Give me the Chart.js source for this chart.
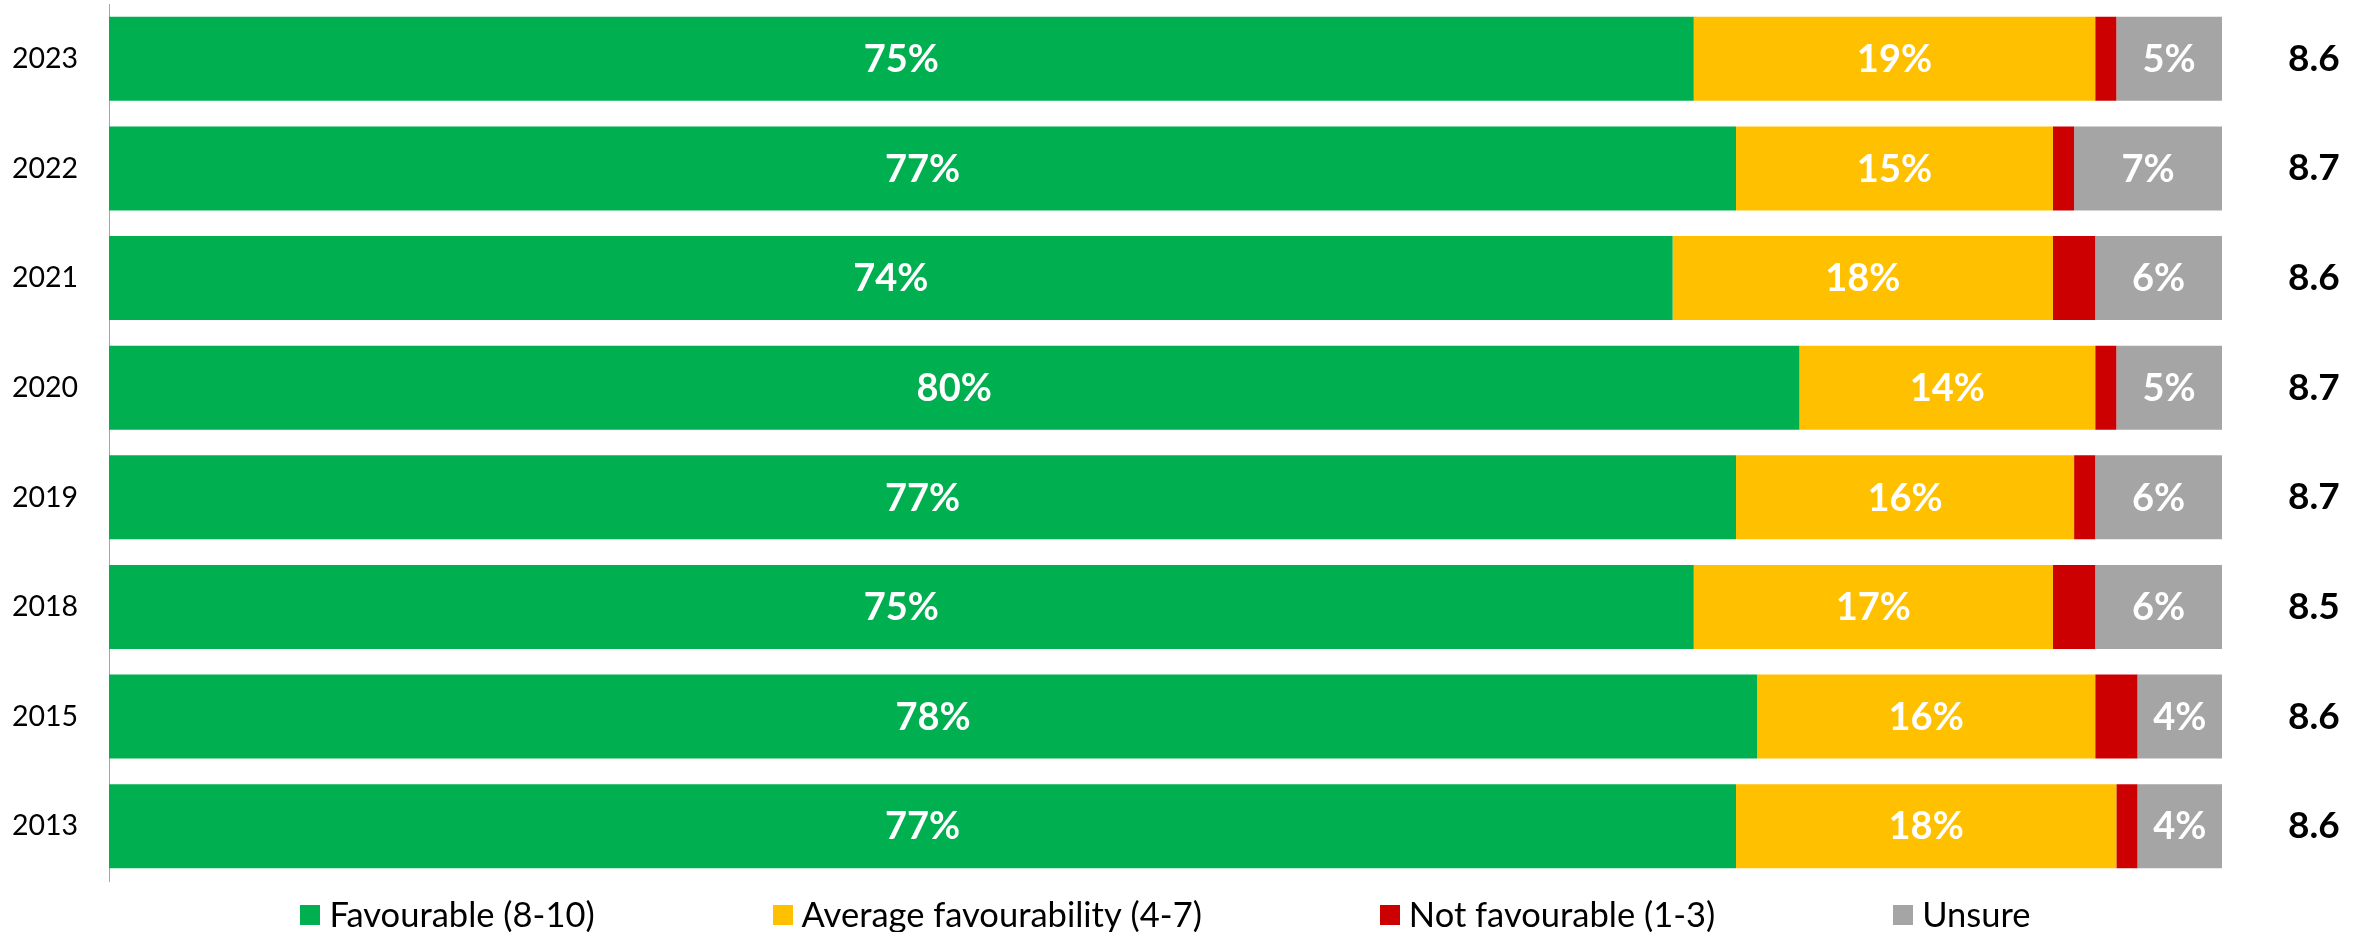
<!DOCTYPE html>
<html>
<head>
<meta charset="utf-8">
<title>Favourability by year</title>
<style>
  html, body { margin: 0; padding: 0; background: #ffffff; }
  #wrap { position: relative; width: 2369px; height: 932px; }
</style>
<script src="https://cdn.jsdelivr.net/npm/chart.js@4.4.1/dist/chart.umd.min.js"></script>
</head>
<body>
<div id="wrap"><canvas id="chart" width="2369" height="932"></canvas></div>
<script>
// Survey years, top to bottom
const years = ['2023', '2022', '2021', '2020', '2019', '2018', '2015', '2013'];

// Share of responses per rating band (%)
const favourable    = [75, 77, 74, 80, 77, 75, 78, 77];
const average       = [19, 15, 18, 14, 16, 17, 16, 18];
const notFavourable = [1, 1, 2, 1, 1, 2, 2, 1];
const unsure        = [5, 7, 6, 5, 6, 6, 4, 4];

// Mean score per year, shown on the right-hand axis
const meanScores = ['8.6', '8.7', '8.6', '8.7', '8.7', '8.5', '8.6', '8.6'];

const seriesNames  = ['Favourable (8-10)', 'Average favourability (4-7)', 'Not favourable (1-3)', 'Unsure'];
const seriesColors = ['#00B050', '#FFC000', '#CC0000', '#A5A5A5'];

const FONT = 'Lato';

// White percentage labels centred in each labelled segment
const segmentLabels = {
  id: 'segmentLabels',
  afterDatasetsDraw(chart) {
    const { ctx } = chart;
    ctx.save();
    ctx.font = 'bold 38px ' + FONT;
    ctx.fillStyle = '#ffffff';
    ctx.textAlign = 'center';
    ctx.textBaseline = 'middle';
    chart.data.datasets.forEach((ds, di) => {
      if (!ds.showValue) return;
      chart.getDatasetMeta(di).data.forEach((bar, i) => {
        ctx.fillText(ds.data[i] + '%', (bar.x + bar.base) / 2, bar.y + 1);
      });
    });
    ctx.restore();
  }
};

// Single-row legend under the plot, centred on the plot area
const bottomLegend = {
  id: 'bottomLegend',
  afterDraw(chart) {
    const { ctx, chartArea } = chart;
    const box = 20, gap = 9, spacing = 178, y = 915;
    ctx.save();
    ctx.font = '34.5px ' + FONT;
    ctx.textAlign = 'left';
    ctx.textBaseline = 'middle';
    const items = chart.data.datasets.map(ds => ({
      text: ds.label,
      color: ds.backgroundColor,
      w: box + gap + ctx.measureText(ds.label).width
    }));
    const total = items.reduce((s, it) => s + it.w, 0) + spacing * (items.length - 1);
    let x = (chartArea.left + chartArea.right) / 2 - total / 2;
    items.forEach(it => {
      ctx.fillStyle = it.color;
      ctx.fillRect(Math.round(x), y - box / 2, box, box);
      ctx.fillStyle = '#000000';
      ctx.fillText(it.text, x + box + gap, y + 1);
      x += it.w + spacing;
    });
    ctx.restore();
  }
};

// Category axes here need no end padding for their outer labels
function fixAxis(width) {
  return function (scale) {
    scale.width = width;
    scale.paddingTop = 0;
    scale.paddingBottom = 0;
  };
}

function draw() {
  const series = [favourable, average, notFavourable, unsure];
  const datasets = series.map((values, i) => ({
    label: seriesNames[i],
    data: values,
    backgroundColor: seriesColors[i],
    borderWidth: 0,
    barPercentage: 0.766,
    categoryPercentage: 1.0,
    showValue: i !== 2
  }));

  new Chart(document.getElementById('chart'), {
    type: 'bar',
    data: { labels: years, datasets },
    options: {
      indexAxis: 'y',
      responsive: false,
      animation: false,
      layout: { padding: { top: 4, bottom: 51, left: 0, right: 0 } },
      scales: {
        x: { stacked: true, min: 0, max: 100, display: false },
        y: {
          stacked: true,
          position: 'left',
          grid: { display: false, drawTicks: false },
          border: { display: true, color: '#A6A6A6', width: 1 },
          ticks: { autoSkip: false, padding: 31, color: '#000000', font: { family: FONT, size: 28.5 } },
          afterFit: fixAxis(109)
        },
        y2: {
          type: 'category',
          labels: meanScores,
          position: 'right',
          offset: true,
          grid: { display: false, drawTicks: false },
          border: { display: false },
          ticks: { autoSkip: false, padding: 66, color: '#000000', font: { family: FONT, size: 37, weight: 'bold' } },
          afterFit: fixAxis(147)
        }
      },
      plugins: {
        legend: { display: false },
        tooltip: { enabled: false }
      }
    },
    plugins: [segmentLabels, bottomLegend]
  });
}

Promise.all([
  document.fonts.load('28px ' + FONT),
  document.fonts.load('bold 36px ' + FONT)
]).then(draw, draw);
</script>
</body>
</html>
